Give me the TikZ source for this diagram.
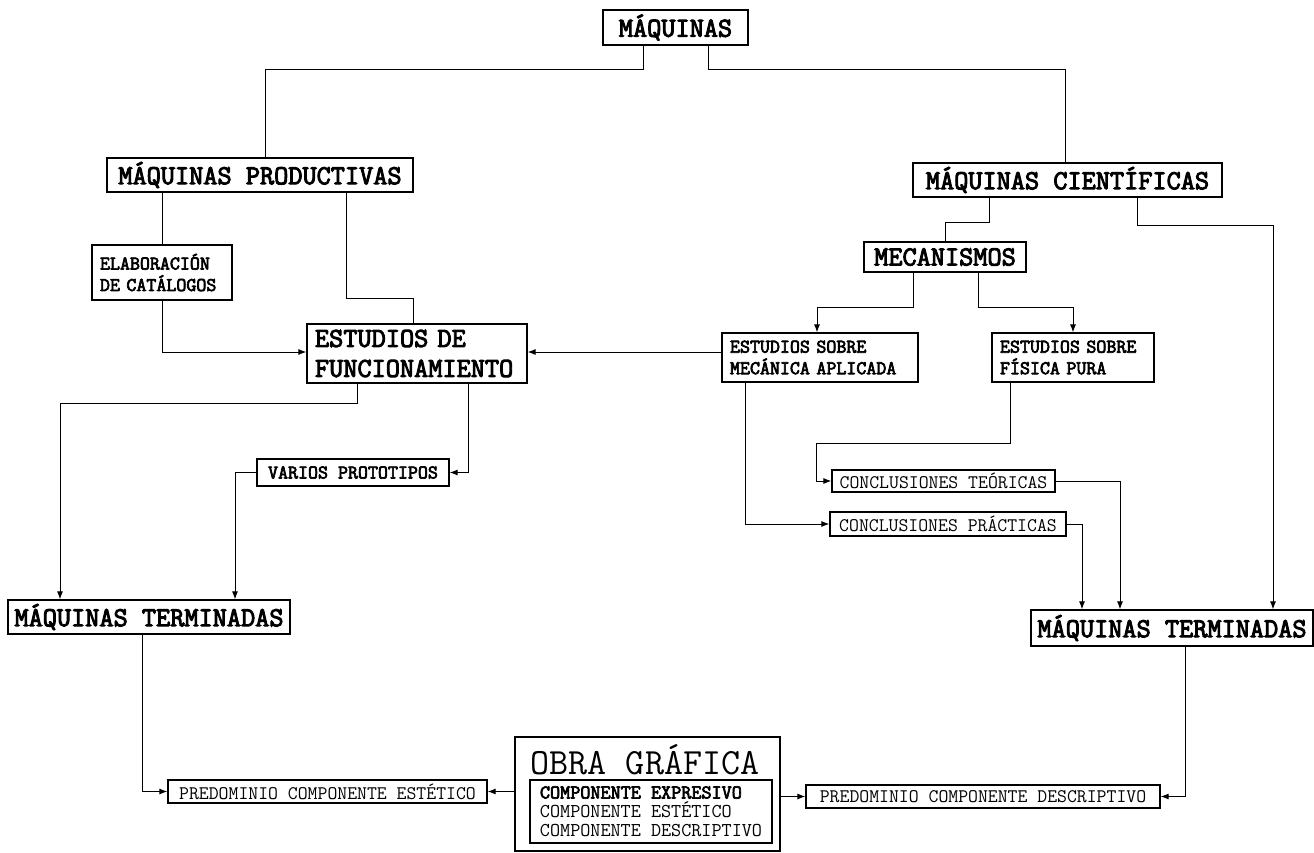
\documentclass[tikz,border=0pt]{standalone}
\usepackage{fontspec}
\newfontfamily\cour{Latin Modern Mono}[BoldFont={Latin Modern Mono}, BoldFeatures={FakeBold=3.5}]
\usepackage{tikz}
\usetikzlibrary{calc,arrows.meta}

\tikzset{
	box/.style={draw, line width=1.2pt, inner sep=0pt},
	big/.style={font=\cour\fontsize{27.5}{30}\selectfont\bfseries},
	small/.style={font=\cour\fontsize{19.4}{21.5}\selectfont\bfseries},
	thin/.style={font=\cour\fontsize{19.2}{21}\selectfont},
	link/.style={line width=1pt},
	>={Latex[length=8pt,width=6pt]}
}

\begin{document}
\begin{tikzpicture}[x=1pt, y=-1pt]
	\useasboundingbox[fill=white] (0,0) rectangle (1314,853);

	% Top level
	\node[box, big, minimum width=145pt, minimum height=35pt] (mq) at (675.5,27.5) {MÁQUINAS};
	\coordinate (lv1) at (0,70);

	%Productivas side
	\node[box, big, minimum width=306pt, minimum height=34pt] (mprod) at (260,175) {MÁQUINAS PRODUCTIVAS};
	\node[box, small, text width=124pt, inner xsep=8pt, align=left, minimum height=55pt] (elab) at (162,272.5) {ELABORACIÓN\\DE CATÁLOGOS};
	\node[box, big, text width=204pt, inner xsep=8pt, align=left, minimum height=59pt] (efunc) at (417,353.5) {ESTUDIOS DE\\FUNCIONAMIENTO};
	\node[box, small, minimum width=192pt, minimum height=27pt] (varios) at (353,472.5) {VARIOS PROTOTIPOS};
	\node[box, big, minimum width=282pt, minimum height=34pt] (mtl) at (149,617) {MÁQUINAS TERMINADAS};

	%Cientificas side
	\node[box, big, minimum width=309pt, minimum height=34pt] (mcient) at (1067.5,180) {MÁQUINAS CIENTÍFICAS};
	\node[box, big, minimum width=162pt, minimum height=30pt] (mec) at (945,257) {MECANISMOS};
	\node[box, small, text width=180pt, inner xsep=8pt, align=left, minimum height=49pt] (esm) at (820,357.5) {ESTUDIOS SOBRE\\MECÁNICA APLICADA};
	\node[box, small, text width=146pt, inner xsep=8pt, align=left, minimum height=49pt] (esf) at (1073,357.5) {ESTUDIOS SOBRE\\FÍSICA PURA};
	\node[box, thin, minimum width=223pt, minimum height=22pt] (ct) at (943.5,481) {CONCLUSIONES TEÓRICAS};
	\node[box, thin, minimum width=236pt, minimum height=24pt] (cp) at (948,524) {CONCLUSIONES PRÁCTICAS};
	\node[box, big, minimum width=282pt, minimum height=36pt] (mtr) at (1172,628) {MÁQUINAS TERMINADAS};

	%Bottom
	\node[box, thin, minimum width=319pt, minimum height=23pt] (pest) at (327.5,791.5) {PREDOMINIO COMPONENTE ESTÉTICO};
	\node[box, thin, minimum width=354pt, minimum height=23pt] (pdesc) at (983,796.5) {PREDOMINIO COMPONENTE DESCRIPTIVO};
	\node[draw, line width=2.4pt, minimum width=265pt, minimum height=114pt] (obra) at (647.5,794) {};
	\node[font=\cour\fontsize{37}{40}\selectfont] (obratit) at (645,760) {OBRA GRÁFICA};
	\node[draw, line width=1.2pt, minimum width=242pt, minimum height=63pt, align=left, font=\cour\fontsize{19.6}{19}\selectfont] (obracomp) at (651,811.5)
		{\textbf{COMPONENTE EXPRESIVO}\\COMPONENTE ESTÉTICO\\COMPONENTE DESCRIPTIVO};

	% Connectors from the top
	\draw[link] ([xshift=-32.5pt]mq.south) -- ([xshift=-32.5pt]mq.south |- lv1) -| ([xshift=5pt]mprod.north);
	\draw[link] ([xshift=32.5pt]mq.south) -- ([xshift=32.5pt]mq.south |- lv1) -| ([xshift=-2.5pt]mcient.north);

	% Productivas
	\draw[link] (elab.north |- mprod.south) -- (elab.north);
	\draw[link] ([xshift=86pt]mprod.south) -- ++(0,106) -| ([xshift=-4pt]efunc.north);
	\draw[link, ->] (elab.south) |- ([yshift=1.5pt]efunc.west);
	\draw[link, ->] ([yshift=1.5pt]esm.west |- efunc.east) -- ([yshift=1.5pt]efunc.east);
	\draw[link, ->] ([xshift=-60pt]efunc.south) -- ++(0,20) -| ([xshift=-89pt]mtl.north);
	\draw[link, ->] ([xshift=51pt]efunc.south) |- (varios.east);
	\draw[link, ->] (varios.west) -| ([xshift=86pt]mtl.north);
	\draw[link, ->] ([xshift=-7pt]mtl.south) |- (pest.west);

	% Cientificas
	\draw[link] ([xshift=-78pt]mcient.south) -- ++(0,25) -| (mec.north);
	\draw[link, ->] ([xshift=70pt]mcient.south) -- ++(0,28) -| ([xshift=101pt]mtr.north);
	\draw[link, ->] ([xshift=-32pt]mec.south) -- ++(0,35) -| ([xshift=-3pt]esm.north);
	\draw[link, ->] ([xshift=33pt]mec.south) -- ++(0,35) -| (esf.north);
	\draw[link, ->] ([xshift=-75pt]esm.south) |- (cp.west);
	\draw[link, ->] ([xshift=-63pt]esf.south) -- ++(0,61) -| ([xshift=-15pt]ct.west) -- (ct.west);
	\draw[link, ->] (ct.east) -| ([xshift=-52pt]mtr.north);
	\draw[link, ->] (cp.east) -| ([xshift=-90pt]mtr.north);
	\draw[link, ->] ([xshift=13pt]mtr.south) |- (pdesc.east);

	% Obra grafica
	\draw[link, ->] (obra.west |- pest.east) -- (pest.east);
	\draw[link, ->] (obra.east |- pdesc.west) -- (pdesc.west);

\end{tikzpicture}
\end{document}
